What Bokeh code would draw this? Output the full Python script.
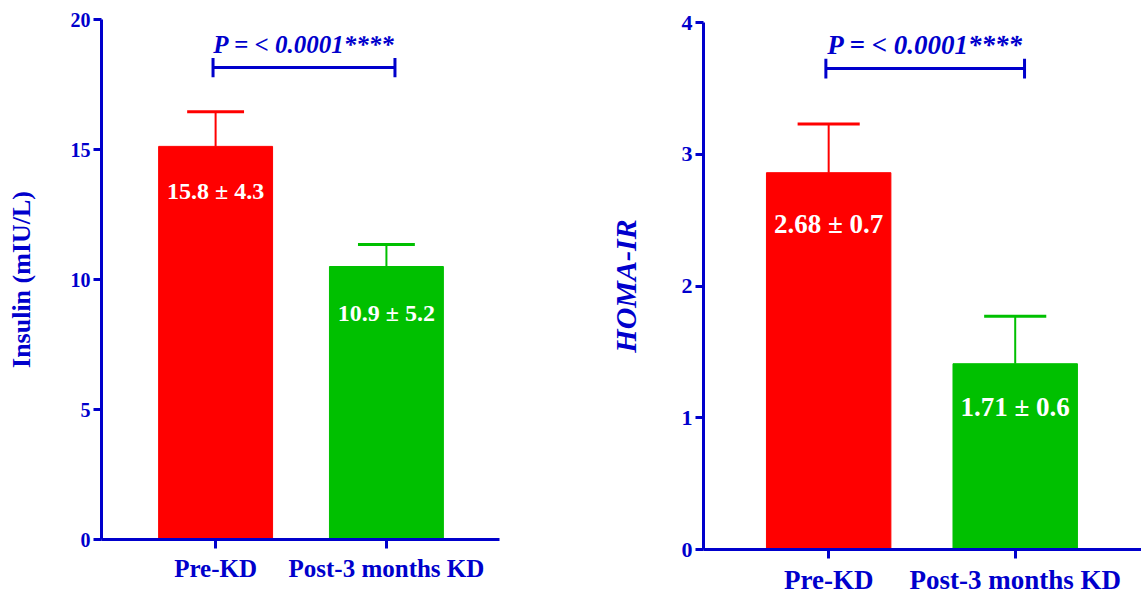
from bokeh.plotting import figure
from bokeh.layouts import row, column
from bokeh.models import ColumnDataSource, FixedTicker, Range1d
from bokeh.embed import file_html
from bokeh.resources import INLINE
from bokeh.core.properties import value

# ---- data ----
categories = ["Pre-KD", "Post-3 months KD"]
positions = [1, 2]
bar_colors = ["#FF0000", "#00C000"]

insulin_mean = [15.12, 10.5]
insulin_err_top = [16.45, 11.35]
insulin_labels = ["15.8 ± 4.3", "10.9 ± 5.2"]
insulin_label_y = [13.4, 8.7]
insulin_ticks = [0, 5, 10, 15, 20]

homa_mean = [2.86, 1.41]
homa_err_top = [3.23, 1.77]
homa_labels = ["2.68 ± 0.7", "1.71 ± 0.6"]
homa_label_y = [2.47, 1.08]
homa_ticks = [0, 1, 2, 3, 4]

p_text = "P = < 0.0001****"
insulin_bracket_y = 18.15
insulin_ptext_y = 19.05
homa_bracket_y = 3.65
homa_ptext_y = 3.83

BLUE = "#0000CC"
FONT = "Liberation Serif"


def make_panel(means, err_top, labels, label_y, ticks, ymax, ylabel, ylabel_style,
               bracket_y, bracket_cap, ptext_y, width, mb_left, mb_right, mb_top, mb_bottom,
               xr, fs_tick_y, fs_tick_x, fs_lab, fs_bar, fs_p, ylab_standoff):
    p = figure(width=width, height=597, output_backend="svg", toolbar_location=None,
               x_range=Range1d(*xr), y_range=Range1d(0, ymax),
               min_border_left=mb_left, min_border_right=mb_right,
               min_border_top=mb_top, min_border_bottom=mb_bottom)
    p.outline_line_color = None
    p.grid.visible = False
    p.background_fill_color = "white"

    src = ColumnDataSource(dict(x=positions, top=means, err=err_top, color=bar_colors,
                                label=labels, ly=label_y))
    p.vbar(x="x", top="top", width=0.667, bottom=0, color="color", source=src)
    p.segment(x0="x", y0="top", x1="x", y1="err", line_color="color", line_width=2, source=src)
    cap_w = 0.333
    p.segment(x0=[x - cap_w / 2 for x in positions], y0=err_top,
              x1=[x + cap_w / 2 for x in positions], y1=err_top,
              line_color=bar_colors, line_width=3)
    p.text(x="x", y="ly", text="label", source=src, text_color="white",
           text_font=value(FONT), text_font_style="bold", text_font_size=f"{fs_bar}px",
           text_align="center", text_baseline="middle")

    # significance bracket
    bx0, bx1 = positions[0] - 0.015, positions[1] + 0.05
    p.segment(x0=[bx0], y0=[bracket_y], x1=[bx1], y1=[bracket_y], line_color=BLUE, line_width=3)
    p.segment(x0=[bx0, bx1], y0=[bracket_y - bracket_cap] * 2, x1=[bx0, bx1],
              y1=[bracket_y + bracket_cap] * 2, line_color=BLUE, line_width=3)
    p.text(x=[(bx0 + bx1) / 2], y=[ptext_y], text=[p_text], text_color=BLUE,
           text_font=value(FONT), text_font_style="bold italic", text_font_size=f"{fs_p}px",
           text_align="center", text_baseline="alphabetic")

    # axes
    p.yaxis.ticker = FixedTicker(ticks=ticks)
    p.xaxis.ticker = FixedTicker(ticks=positions)
    p.xaxis.major_label_overrides = {pos: c for pos, c in zip(positions, categories)}
    for ax in (p.xaxis[0], p.yaxis[0]):
        ax.axis_line_color = BLUE
        ax.axis_line_width = 3
        ax.major_tick_line_color = BLUE
        ax.major_tick_line_width = 3
        ax.minor_tick_line_color = None
        ax.major_tick_in = 0
        ax.major_label_text_color = BLUE
        ax.major_label_text_font = FONT
        ax.major_label_text_font_style = "bold"
    p.yaxis.major_tick_out = 8
    p.xaxis.major_tick_out = 9
    p.yaxis.major_label_text_font_size = f"{fs_tick_y}px"
    p.xaxis.major_label_text_font_size = f"{fs_tick_x}px"
    p.yaxis.major_label_standoff = 3
    p.xaxis.major_label_standoff = 6
    p.yaxis.axis_label = ylabel
    p.yaxis.axis_label_text_color = BLUE
    p.yaxis.axis_label_text_font = FONT
    p.yaxis.axis_label_text_font_style = ylabel_style
    p.yaxis.axis_label_text_font_size = f"{fs_lab}px"
    p.yaxis.axis_label_standoff = ylab_standoff
    return p


left = make_panel(insulin_mean, insulin_err_top, insulin_labels, insulin_label_y, insulin_ticks, 20,
                  "Insulin (mIU/L)", "bold", insulin_bracket_y, 0.37, insulin_ptext_y,
                  width=600, mb_left=101, mb_right=101, mb_top=19, mb_bottom=58,
                  xr=(0.332, 2.662), fs_tick_y=20, fs_tick_x=25, fs_lab=26, fs_bar=24, fs_p=25,
                  ylab_standoff=32)

right = make_panel(homa_mean, homa_err_top, homa_labels, homa_label_y, homa_ticks, 4,
                   "HOMA-IR", "bold italic", homa_bracket_y, 0.075, homa_ptext_y,
                   width=541, mb_left=103, mb_right=0, mb_top=22, mb_bottom=48,
                   xr=(0.329, 2.677), fs_tick_y=22, fs_tick_x=27, fs_lab=30, fs_bar=27, fs_p=27,
                   ylab_standoff=37)

layout = row(column(left), column(right))
open("out.html", "w").write(file_html(layout, INLINE))
